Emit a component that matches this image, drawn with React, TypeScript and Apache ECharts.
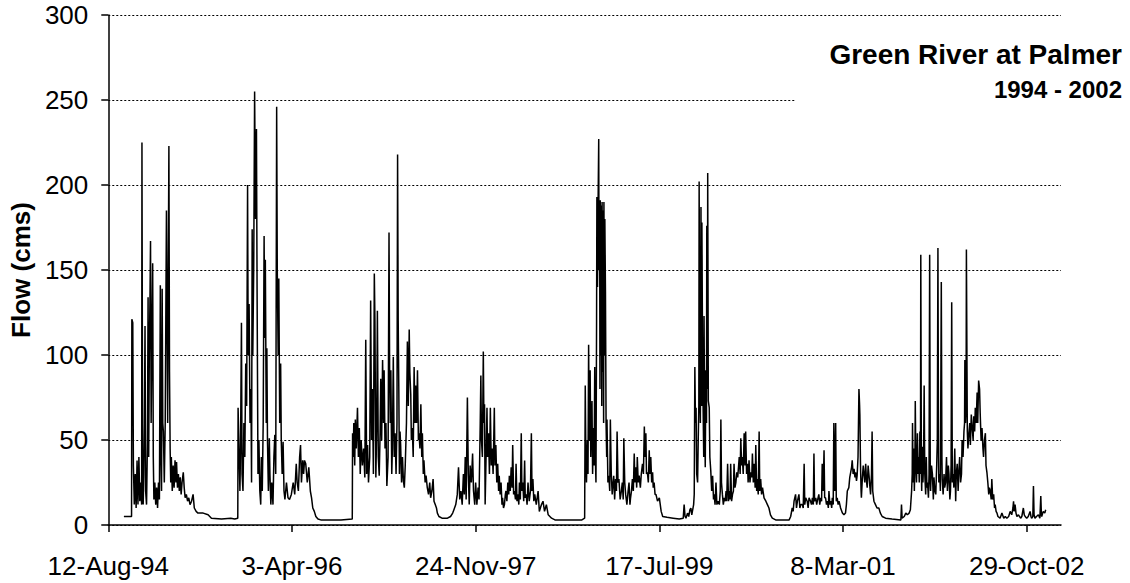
import React, { useEffect, useRef } from "react";
import * as echarts from "echarts";

// x values are days counted from 12-Aug-1994 (the first axis tick)
const START_DATE_UTC = Date.UTC(1994, 7, 12);
const MONTHS = ["Jan", "Feb", "Mar", "Apr", "May", "Jun", "Jul", "Aug", "Sep", "Oct", "Nov", "Dec"];
const xTickDays = [0, 600, 1200, 1800, 2400, 3000];
const xMaxDays = 3112;
const yMax = 300;
const yStep = 50;

const TITLE = "Green River at Palmer";
const SUBTITLE = "1994 - 2002";
const Y_NAME = "Flow (cms)";

// [day offset, flow in cms]
const flowWY1995: [number, number][] = [
  [51, 5], [76, 5], [77, 121], [80, 119], [82, 35], [85, 12], [88, 30], [91, 10], [94, 38], [97, 12],
  [100, 40], [103, 14], [106, 25], [109, 12], [110, 225], [112, 40], [114, 12], [116, 30], [118, 60], [120, 117],
  [122, 20], [125, 12], [128, 50], [130, 134], [132, 40], [134, 100], [136, 130], [138, 167], [140, 60], [142, 100],
  [145, 154], [147, 40], [149, 15], [152, 25], [155, 12], [158, 22], [161, 10], [164, 25], [167, 15], [170, 141],
  [172, 40], [174, 20], [176, 139], [178, 60], [180, 55], [183, 25], [186, 60], [190, 185], [192, 120], [194, 60],
  [196, 150], [198, 223], [200, 90], [202, 45], [204, 25], [206, 40], [209, 20], [212, 35], [215, 22], [218, 38],
  [221, 25], [223, 37], [226, 22], [229, 30], [232, 20], [235, 28], [238, 18], [241, 25], [245, 31], [248, 22],
  [251, 16], [255, 18], [259, 14], [263, 16], [267, 12], [272, 14], [277, 18], [281, 10], [287, 8], [293, 7],
  [310, 7], [326, 6], [337, 4], [370, 3.5], [400, 4], [413, 3.5], [423, 4],
];

const flowWY1996: [number, number][] = [
  [424, 69], [427, 45], [430, 20], [432, 45], [435, 119], [437, 30], [440, 20], [443, 60], [446, 40], [449, 95],
  [452, 70], [455, 200], [457, 100], [460, 130], [463, 60], [466, 80], [468, 25], [470, 174], [472, 100], [475, 150],
  [478, 255], [481, 180], [484, 233], [486, 140], [489, 30], [492, 50], [495, 20], [498, 12], [500, 40], [503, 20],
  [506, 60], [509, 170], [511, 110], [513, 156], [516, 60], [518, 104], [520, 50], [523, 20], [526, 51], [528, 30],
  [531, 12], [534, 25], [538, 12], [541, 40], [544, 53], [547, 30], [550, 246], [552, 150], [555, 100], [557, 145],
  [560, 60], [563, 95], [565, 50], [568, 30], [571, 49], [574, 20], [577, 15], [582, 25], [587, 16], [592, 15],
  [598, 18], [604, 25], [609, 18], [614, 36], [617, 25], [621, 20], [625, 40], [628, 47], [631, 25], [635, 38],
  [638, 30], [641, 38], [645, 36], [650, 25], [655, 34], [660, 20], [664, 16], [668, 10], [673, 8], [678, 5],
  [685, 3.5], [694, 3],
];

const flowWY1997: [number, number][] = [
  [720, 3], [760, 3], [797, 3.5], [798, 54], [800, 40], [802, 60], [805, 35], [807, 62], [810, 45], [814, 69],
  [817, 40], [820, 57], [823, 30], [826, 50], [830, 35], [834, 45], [838, 28], [841, 109], [844, 30], [847, 47],
  [850, 25], [854, 40], [857, 132], [860, 50], [863, 80], [866, 30], [869, 148], [871, 120], [874, 28], [877, 60],
  [879, 126], [882, 40], [885, 29], [888, 55], [890, 86], [893, 50], [896, 97], [899, 60], [901, 91], [904, 45],
  [907, 60], [910, 23], [914, 40], [917, 172], [919, 90], [921, 60], [923, 91], [926, 30], [928, 45], [931, 99],
  [934, 40], [937, 54], [940, 30], [943, 60], [945, 218], [947, 120], [949, 80], [951, 30], [953, 55], [955, 47],
  [958, 25], [961, 40], [964, 26], [967, 22], [970, 35], [974, 60], [977, 108], [980, 70], [983, 115], [985, 90],
  [988, 77], [990, 50], [993, 57], [996, 40], [999, 93], [1002, 60], [1004, 82], [1007, 60], [1010, 91], [1013, 50],
  [1015, 54], [1018, 45], [1021, 71], [1024, 40], [1026, 54], [1029, 30], [1031, 38], [1035, 25], [1038, 29], [1042, 22],
  [1046, 18], [1050, 25], [1053, 16], [1057, 20], [1061, 27], [1064, 14], [1068, 12], [1072, 10], [1075, 7], [1080, 5],
  [1090, 4], [1108, 4], [1118, 5], [1125, 7],
];

const flowWY1998: [number, number][] = [
  [1129, 9], [1135, 12], [1140, 18], [1144, 34], [1148, 15], [1152, 20], [1156, 12], [1160, 30], [1163, 18], [1166, 40],
  [1169, 15], [1173, 75], [1176, 30], [1179, 12], [1182, 35], [1186, 25], [1190, 42], [1193, 20], [1197, 12], [1200, 25],
  [1204, 12], [1208, 22], [1211, 15], [1215, 60], [1217, 88], [1219, 50], [1222, 40], [1225, 102], [1227, 60], [1229, 71],
  [1231, 12], [1234, 40], [1237, 69], [1239, 40], [1242, 54], [1245, 30], [1248, 69], [1251, 35], [1254, 45], [1257, 30],
  [1261, 69], [1263, 35], [1266, 47], [1269, 25], [1272, 36], [1275, 20], [1277, 29], [1280, 18], [1283, 25], [1286, 12],
  [1288, 16], [1291, 10], [1294, 12], [1297, 18], [1299, 20], [1302, 14], [1305, 25], [1308, 18], [1310, 29], [1313, 20],
  [1316, 34], [1319, 22], [1321, 47], [1324, 18], [1327, 20], [1330, 15], [1332, 36], [1335, 14], [1338, 18], [1341, 12],
  [1343, 25], [1346, 15], [1349, 54], [1351, 20], [1354, 25], [1357, 14], [1360, 38], [1362, 16], [1365, 18], [1368, 12],
  [1371, 25], [1375, 14], [1379, 20], [1382, 54], [1384, 20], [1387, 27], [1390, 14], [1393, 18], [1398, 12], [1404, 20],
  [1408, 8], [1415, 12], [1420, 14], [1425, 8], [1431, 12], [1437, 6], [1448, 4], [1459, 3], [1530, 3],
];

const flowWY1999: [number, number][] = [
  [1547, 3], [1556, 4], [1558, 82], [1560, 40], [1562, 25], [1565, 50], [1567, 30], [1569, 106], [1571, 50], [1574, 91],
  [1576, 40], [1578, 60], [1580, 73], [1582, 30], [1585, 57], [1587, 35], [1589, 93], [1591, 40], [1593, 25], [1595, 120],
  [1596, 193], [1598, 140], [1600, 190], [1602, 227], [1603, 150], [1605, 190], [1606, 80], [1607, 191], [1609, 100], [1610, 188],
  [1612, 70], [1613, 190], [1615, 90], [1616, 185], [1618, 60], [1619, 190], [1621, 100], [1622, 180], [1624, 137], [1626, 60],
  [1628, 40], [1629, 62], [1632, 25], [1635, 29], [1638, 20], [1640, 62], [1643, 30], [1646, 18], [1649, 25], [1651, 29],
  [1654, 15], [1657, 27], [1660, 20], [1662, 55], [1665, 25], [1668, 27], [1672, 15], [1676, 20], [1679, 25], [1682, 15],
  [1684, 51], [1687, 25], [1690, 18], [1694, 12], [1698, 20], [1701, 25], [1704, 12], [1706, 16], [1709, 20], [1712, 27],
  [1715, 20], [1718, 42], [1720, 25], [1723, 34], [1726, 22], [1728, 40], [1731, 25], [1734, 29], [1738, 22], [1741, 30],
  [1745, 36], [1748, 30], [1751, 58], [1753, 40], [1756, 54], [1758, 30], [1761, 31], [1764, 25], [1767, 44], [1769, 30],
  [1772, 40], [1775, 25], [1778, 31], [1780, 22], [1783, 25], [1786, 18], [1789, 18], [1794, 14], [1800, 16], [1806, 8],
  [1811, 5],
];

const flowWY2000: [number, number][] = [
  [1825, 4.5], [1845, 4], [1865, 3.5], [1878, 4], [1881, 12], [1884, 5], [1887, 4], [1892, 7], [1896, 5], [1900, 9],
  [1903, 10], [1906, 6], [1908, 8], [1912, 12], [1914, 18], [1916, 93], [1918, 60], [1920, 69], [1922, 30], [1925, 25],
  [1927, 50], [1929, 70], [1930, 202], [1932, 90], [1934, 60], [1936, 187], [1938, 70], [1939, 178], [1941, 106], [1943, 69],
  [1945, 40], [1946, 123], [1948, 60], [1950, 34], [1952, 91], [1954, 60], [1955, 176], [1957, 80], [1958, 207], [1960, 73],
  [1963, 69], [1965, 40], [1968, 32], [1971, 20], [1974, 29], [1977, 15], [1979, 18], [1982, 12], [1985, 25], [1988, 12],
  [1992, 14], [1996, 12], [1999, 20], [2001, 62], [2003, 25], [2006, 18], [2009, 12], [2012, 16], [2015, 14], [2018, 20],
  [2020, 14], [2023, 36], [2026, 14], [2029, 20], [2031, 15], [2033, 36], [2036, 14], [2039, 18], [2042, 20], [2044, 36],
  [2047, 22], [2050, 25], [2053, 31], [2056, 28], [2059, 35], [2061, 40], [2064, 30], [2066, 51], [2069, 35], [2071, 40],
  [2074, 30], [2077, 54], [2080, 35], [2082, 55], [2085, 30], [2088, 36], [2090, 25], [2093, 38], [2096, 25], [2099, 31],
  [2102, 28], [2104, 42], [2107, 25], [2110, 36], [2113, 22], [2115, 47], [2118, 20], [2120, 27], [2123, 18], [2126, 55],
  [2128, 20], [2131, 27], [2134, 18], [2137, 22], [2142, 16], [2148, 14], [2153, 12], [2158, 10], [2163, 6], [2169, 4],
  [2180, 3], [2224, 3],
];

const flowWY2001: [number, number][] = [
  [2229, 5], [2234, 10], [2237, 8], [2240, 14], [2245, 18], [2248, 10], [2251, 14], [2256, 18], [2259, 10], [2262, 12],
  [2267, 12], [2270, 10], [2273, 36], [2275, 12], [2278, 16], [2283, 14], [2286, 10], [2289, 16], [2294, 14], [2297, 12],
  [2300, 16], [2303, 12], [2305, 42], [2307, 14], [2311, 16], [2314, 12], [2316, 14], [2321, 18], [2324, 12], [2327, 16],
  [2330, 14], [2332, 36], [2335, 20], [2338, 44], [2340, 16], [2343, 16], [2346, 12], [2349, 14], [2352, 10], [2354, 20],
  [2357, 12], [2360, 14], [2363, 10], [2365, 16], [2368, 12], [2370, 60], [2373, 20], [2376, 60], [2378, 14], [2381, 16],
  [2384, 12], [2387, 14], [2392, 10], [2398, 7], [2403, 6], [2408, 7], [2411, 12], [2414, 20], [2419, 22], [2422, 28],
  [2425, 31], [2428, 34], [2430, 38], [2433, 30], [2436, 33], [2439, 28], [2441, 31], [2444, 26], [2446, 29], [2449, 40],
  [2452, 80], [2454, 71], [2455, 65], [2457, 36], [2459, 20], [2460, 16], [2463, 27], [2466, 35], [2468, 31], [2471, 25],
  [2474, 36], [2477, 25], [2479, 22], [2482, 35], [2485, 29], [2488, 22], [2490, 18], [2493, 30], [2495, 55], [2497, 20],
  [2501, 14], [2506, 12], [2511, 10], [2517, 10], [2522, 7], [2528, 5], [2539, 4],
];

const flowWY2002: [number, number][] = [
  [2560, 3.5], [2589, 3], [2591, 12], [2593, 4], [2600, 5], [2605, 7], [2610, 6], [2616, 7], [2620, 9], [2624, 20],
  [2626, 30], [2627, 60], [2629, 25], [2631, 45], [2633, 20], [2635, 40], [2636, 73], [2638, 35], [2640, 25], [2643, 54],
  [2645, 30], [2647, 40], [2649, 25], [2651, 55], [2653, 30], [2654, 159], [2656, 30], [2657, 20], [2659, 46], [2661, 25],
  [2663, 35], [2665, 82], [2667, 30], [2670, 18], [2672, 40], [2674, 22], [2676, 25], [2679, 16], [2681, 30], [2683, 159],
  [2685, 25], [2686, 20], [2689, 35], [2692, 30], [2695, 15], [2697, 28], [2700, 20], [2703, 18], [2706, 35], [2708, 50],
  [2710, 163], [2712, 40], [2713, 25], [2716, 30], [2718, 20], [2721, 143], [2723, 40], [2724, 27], [2727, 18], [2730, 30],
  [2732, 22], [2735, 25], [2738, 40], [2741, 20], [2744, 35], [2746, 30], [2749, 15], [2751, 20], [2753, 35], [2755, 131],
  [2757, 25], [2760, 30], [2762, 22], [2765, 45], [2768, 14], [2770, 30], [2773, 36], [2776, 20], [2778, 30], [2781, 40],
  [2784, 25], [2787, 30], [2789, 50], [2792, 40], [2795, 55], [2797, 60], [2798, 97], [2800, 60], [2802, 70], [2803, 162],
  [2805, 90], [2806, 55], [2808, 45], [2811, 54], [2814, 60], [2816, 47], [2819, 65], [2822, 57], [2825, 50], [2827, 64],
  [2830, 55], [2832, 69], [2835, 60], [2838, 78], [2840, 60], [2843, 85], [2846, 80], [2848, 66], [2851, 50], [2854, 57],
  [2857, 45], [2859, 40], [2862, 50], [2865, 54], [2867, 35], [2870, 31], [2873, 25], [2876, 18], [2878, 22], [2881, 20],
  [2884, 15], [2886, 27], [2889, 15], [2892, 18], [2895, 10], [2897, 12], [2900, 8], [2903, 7], [2906, 5], [2913, 4],
  [2919, 7], [2925, 4], [2930, 5], [2935, 4], [2941, 5], [2946, 8], [2951, 6], [2955, 10], [2957, 14], [2959, 8],
  [2962, 12], [2965, 7], [2968, 5], [2973, 6], [2980, 4], [2984, 5], [2989, 10], [2992, 6], [2995, 5], [3000, 4],
  [3005, 5], [3011, 8], [3014, 5], [3016, 4], [3020, 5], [3022, 23], [3024, 6], [3027, 4], [3032, 5], [3038, 6],
  [3043, 4], [3046, 17], [3048, 6], [3049, 5], [3054, 8], [3059, 7], [3062, 9],
];

const FONT = 'Arial, "Liberation Sans", sans-serif';

function formatDay(v: number): string {
  const d = new Date(START_DATE_UTC + Math.round(v) * 86400000);
  const yy = String(d.getUTCFullYear() % 100).padStart(2, "0");
  return `${d.getUTCDate()}-${MONTHS[d.getUTCMonth()]}-${yy}`;
}

export default function App() {
  const ref = useRef<HTMLDivElement>(null);

  useEffect(() => {
    if (!ref.current) return;
    const chart = echarts.init(ref.current, null, { renderer: "svg" });
    const data = [
      ...flowWY1995, ...flowWY1996, ...flowWY1997, ...flowWY1998,
      ...flowWY1999, ...flowWY2000, ...flowWY2001, ...flowWY2002,
    ];
    chart.setOption({
      animation: false,
      backgroundColor: "#ffffff",
      grid: { left: 107, right: 69, top: 15, bottom: 58, containLabel: false },
      xAxis: {
        type: "value",
        min: 0,
        max: xMaxDays,
        interval: 600,
        axisLine: { show: true, onZero: false, lineStyle: { color: "#000", width: 1.5 } },
        axisTick: { show: true, length: 7, lineStyle: { color: "#000", width: 1.5 }, customValues: xTickDays },
        axisLabel: {
          customValues: xTickDays,
          formatter: (v: number) => formatDay(v),
          color: "#000",
          fontSize: 26,
          fontFamily: FONT,
          margin: 28,
        },
        splitLine: { show: false },
      },
      yAxis: {
        type: "value",
        min: 0,
        max: yMax,
        interval: yStep,
        name: Y_NAME,
        nameLocation: "middle",
        nameRotate: 90,
        nameGap: 69,
        nameTextStyle: { color: "#000", fontSize: 26, fontWeight: "bold", fontFamily: FONT },
        axisLine: { show: true, lineStyle: { color: "#000", width: 1.5 } },
        axisTick: { show: true, length: 7, lineStyle: { color: "#000", width: 1.5 } },
        axisLabel: { color: "#000", fontSize: 26, fontFamily: FONT, margin: 20 },
        splitLine: { show: true, lineStyle: { color: "#000", width: 1, type: [2, 2] } },
      },
      series: [
        {
          type: "line",
          data,
          showSymbol: false,
          symbol: "none",
          lineStyle: { color: "#000", width: 1.5 },
          z: 3,
        },
      ],
      graphic: [
        {
          type: "rect",
          z: 100,
          shape: { x: 795, y: 32, width: 332, height: 80 },
          style: { fill: "#ffffff" },
        },
        {
          type: "text",
          z: 101,
          x: 1122,
          y: 54,
          style: {
            text: TITLE,
            fill: "#000",
            fontSize: 28,
            fontWeight: "bold",
            fontFamily: FONT,
            align: "right",
            verticalAlign: "middle",
            textAlign: "right",
            textVerticalAlign: "middle",
          },
        },
        {
          type: "text",
          z: 101,
          x: 1122,
          y: 89,
          style: {
            text: SUBTITLE,
            fill: "#000",
            fontSize: 24,
            fontWeight: "bold",
            fontFamily: FONT,
            align: "right",
            verticalAlign: "middle",
            textAlign: "right",
            textVerticalAlign: "middle",
          },
        },
      ],
    });
    return () => chart.dispose();
  }, []);

  return (
    <div
      ref={ref}
      style={{ position: "absolute", left: 0, top: 0, width: 1130, height: 583, background: "#fff" }}
    />
  );
}
